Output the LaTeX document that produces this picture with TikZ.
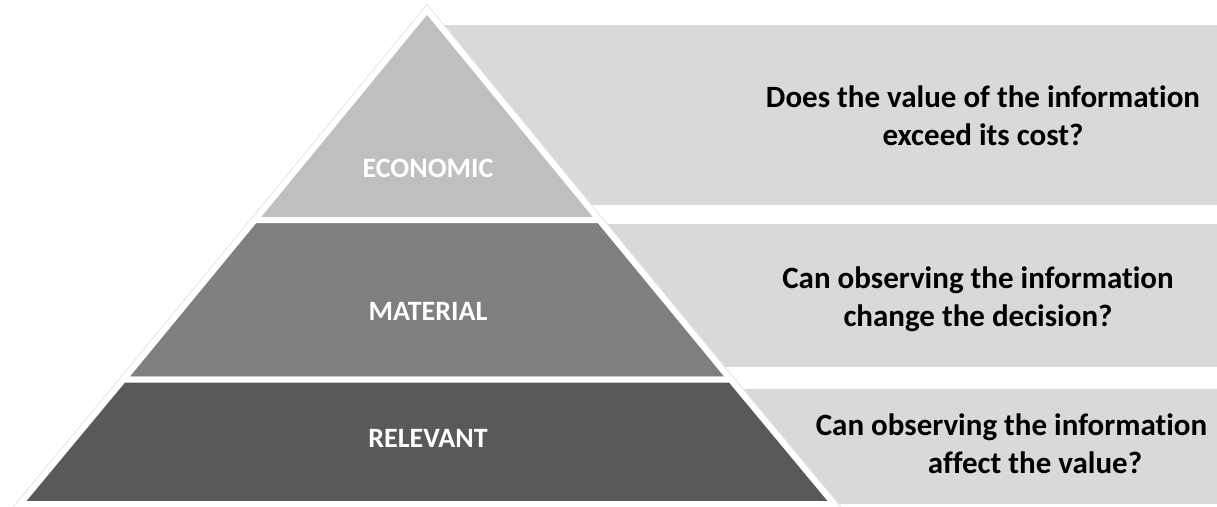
\documentclass[tikz,border=0pt]{standalone}
\usepackage{fontspec}
\setmainfont{Carlito}[Ligatures=NoCommon]
\definecolor{econ}{HTML}{BFBFBF}
\definecolor{mat}{HTML}{7F7F7F}
\definecolor{rel}{HTML}{595959}
\definecolor{qbox}{HTML}{D9D9D9}
\tikzset{
  band/.style={line width=6pt, draw=white, line join=miter},
  bandshadow/.style={line width=8pt, draw=black!10, line join=miter},
  qrect/.style={fill=qbox, draw=none},
  label/.style={text=white, font=\fontsize{28}{34}\selectfont\bfseries, inner sep=0pt, anchor=base},
  question/.style={text=black, font=\fontsize{31}{38}\selectfont\bfseries, inner sep=0pt, anchor=north, align=center}
}
\begin{document}
\begin{tikzpicture}[x=1pt,y=-1pt]
\useasboundingbox (0,0) rectangle (1217,506);
% question boxes
\fill[qrect] (440,25) rectangle (1217,205);
\fill[qrect] (440,224) rectangle (1217,367);
\fill[qrect] (440,389) rectangle (1217,504);
% pyramid bands
\coordinate (apex) at (427,10);
\coordinate (el) at (254.8,220);
\coordinate (er) at (599.2,220);
\coordinate (ml) at (123.5,379.5);
\coordinate (mr) at (730.5,379.5);
\coordinate (rl) at (20,504);
\coordinate (rr) at (834,504);
\draw[bandshadow] (apex) -- (er) -- (el) -- cycle;
\draw[bandshadow] (el) -- (er) -- (mr) -- (ml) -- cycle;
\draw[bandshadow] (ml) -- (mr) -- (rr) -- (rl) -- cycle;
\filldraw[band, fill=econ] (apex) -- (er) -- (el) -- cycle;
\filldraw[band, fill=mat] (el) -- (er) -- (mr) -- (ml) -- cycle;
\filldraw[band, fill=rel] (ml) -- (mr) -- (rr) -- (rl) -- cycle;
% labels
\node[label] (leco) at (428,177) {ECONOMIC};
\node[label] (lmat) at (428,320) {MATERIAL};
\node[label] (lrel) at (428,447) {RELEVANT};
% questions
\node[question] (q1) at (983,80.4) {\strut Does the value of the information\\\strut exceed its cost?};
\node[question] (q2) at (978,261.4) {\strut Can observing the information\\\strut change the decision?};
\node[question] (q3) at (1011.5,408.4) {\strut Can observing the information\\\strut\hspace*{47pt}affect the value?};
\end{tikzpicture}
\end{document}
